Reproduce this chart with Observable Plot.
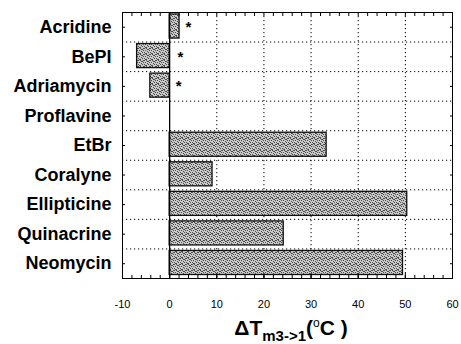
<!DOCTYPE html>
<html><head><meta charset="utf-8">
<script src="https://cdn.jsdelivr.net/npm/d3@7"></script>
<script src="https://cdn.jsdelivr.net/npm/@observablehq/plot@0.6"></script>
<style>body{margin:0;background:#fff}</style>
</head><body><div id="chart"></div>
<script>
const drugs = ["Acridine","BePI","Adriamycin","Proflavine","EtBr","Coralyne","Ellipticine","Quinacrine","Neomycin"];
const deltaTm = [2.1, -6.9, -4.1, 0, 33.3, 9.1, 50.4, 24.2, 49.5];
const starDrugs = ["Acridine","BePI","Adriamycin"];
const starX = [4, 2.3, 1.9];
const xTicks = [-10, 0, 10, 20, 30, 40, 50, 60];
const xGrid = [10, 20, 30, 40, 50];
const xMinor = d3.range(-10, 61, 2);

const rows = drugs.map((d, i) => ({drug: d, i, value: deltaTm[i]}));
const stars = starDrugs.map((d, k) => ({i: drugs.indexOf(d), x: starX[k]}));
const bounds = d3.range(1, drugs.length);
const centers = drugs.map((d, i) => i + 0.5);

const svgNS = "http://www.w3.org/2000/svg";

const chart = Plot.plot({
  width: 461,
  height: 344,
  marginTop: 12,
  marginBottom: 66,
  marginLeft: 122,
  marginRight: 9,
  style: {fontFamily: "Liberation Sans, Arial, sans-serif", background: "#fff", overflow: "visible"},
  x: {domain: [-10, 60]},
  y: {domain: [drugs.length, 0]},
  marks: [
    Plot.ruleX(xGrid, {stroke: "#000", strokeWidth: 1, strokeDasharray: "1.2,2.8"}),
    Plot.ruleY(bounds, {stroke: "#000", strokeWidth: 1, strokeDasharray: "1.2,2.8"}),
    Plot.rect(rows, {x1: 0, x2: "value", y1: "i", y2: d => d.i + 1, insetTop: 2, insetBottom: 3.5,
      fill: "url(#stipple)", stroke: "#111", strokeWidth: 1.3}),
    Plot.ruleX([0], {stroke: "#000", strokeWidth: 1.3}),
    Plot.text(stars, {x: "x", y: d => d.i + 0.5, text: () => "*", fontSize: 15, fontWeight: "bold", dy: 0, fill: "#000"}),
    Plot.axisX(xMinor, {anchor: "top", tickSize: -3, label: null, text: null, stroke: "#000"}),
    Plot.axisX(xMinor, {anchor: "bottom", tickSize: -3, label: null, text: null, stroke: "#000"}),
    Plot.axisX(xTicks, {anchor: "bottom", tickSize: -5, label: null, text: null, stroke: "#000"}),
    Plot.axisX(xTicks, {anchor: "bottom", tickSize: 0, tickPadding: 22, label: null, fontSize: 11,
      fill: "#000", style: "letter-spacing:2px", tickFormat: d => String(d)}),
    Plot.axisY(centers, {anchor: "left", tickSize: -3, label: null, text: null, stroke: "#000"}),
    Plot.axisY(centers, {anchor: "right", tickSize: -3, label: null, text: null, stroke: "#000"}),
    Plot.axisY(centers, {anchor: "left", tickSize: 0, tickPadding: 11, label: null, fontSize: 18,
      fontWeight: "bold", fill: "#000", tickFormat: v => drugs[Math.floor(v)]}),
    Plot.frame({stroke: "#000", strokeWidth: 1})
  ]
});

// stipple pattern for the bars
const dots = [[0,0],[2,0],[4,1],[1,2],[3,3],[5,2],[0,4],[2,5],[4,4],[5,0],[1,5],[3,1]];
const defs = document.createElementNS(svgNS, "defs");
defs.innerHTML = `<pattern id="stipple" width="6" height="6" patternUnits="userSpaceOnUse">
  <rect width="6" height="6" fill="#cacaca"/>
  ${dots.map(([x, y]) => `<rect x="${x}" y="${y}" width="1" height="1" fill="#4a4a4a"/>`).join("")}
</pattern>`;
chart.insertBefore(defs, chart.firstChild);

// x-axis title with subscript and degree sign
const t = d3.select(chart).append("text")
  .attr("x", 291).attr("y", 335)
  .attr("text-anchor", "middle")
  .attr("font-family", "Liberation Sans, Arial, sans-serif")
  .attr("font-weight", "bold")
  .attr("font-size", 21)
  .attr("fill", "#000");
t.append("tspan").text("ΔT");
t.append("tspan").attr("font-size", 15).attr("dy", 6).text("m3->1");
t.append("tspan").attr("dy", -6).text("(");
t.append("tspan").attr("font-size", 12).attr("dy", -8).attr("font-weight", "normal").text("o");
t.append("tspan").attr("dy", 8).text("C )");

document.getElementById("chart").append(chart);
</script>
</body></html>
